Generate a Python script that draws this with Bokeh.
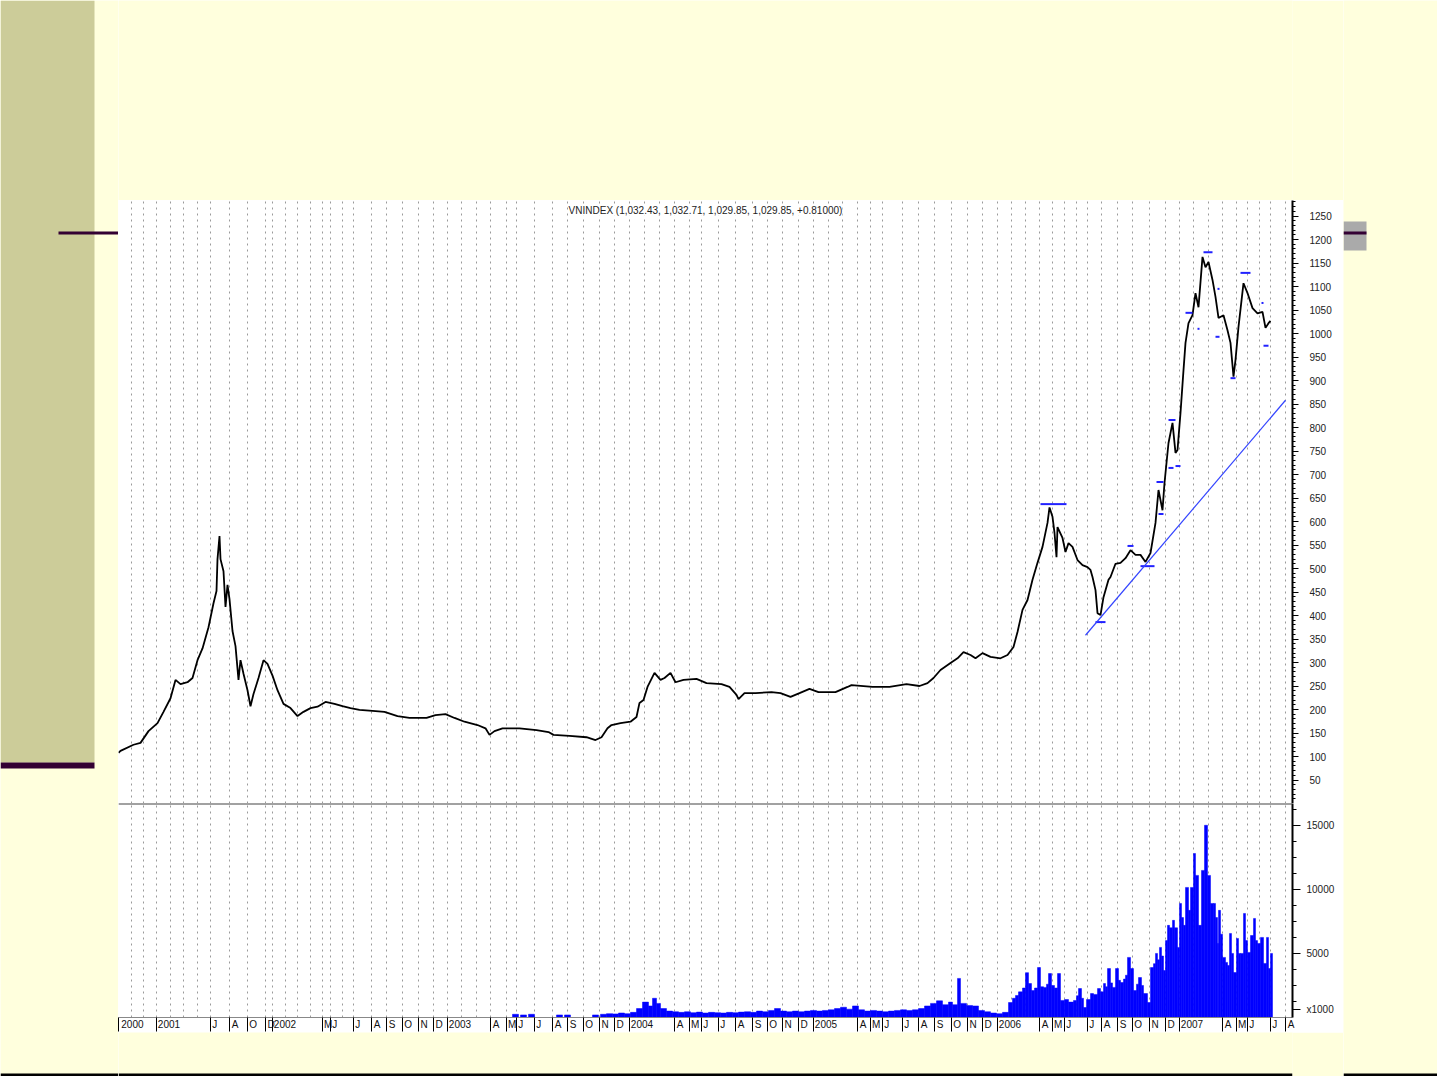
from bokeh.plotting import figure
from bokeh.layouts import row, column
from bokeh.models import Range1d, FixedTicker, Grid, Label, Span
from bokeh.embed import file_html
from bokeh.resources import INLINE
import numpy as np

BG = "#FFFFDD"
FONT = "Liberation Sans"

# ---------------- data (x = trading-session index on the compressed chart axis) -------------
price_x = [0, 2, 15, 22, 30, 39, 45, 52, 57, 62, 69, 74, 79, 84, 90, 95, 98, 99, 101, 102, 105,
           107, 109, 111, 114, 117, 120, 122, 125, 129, 132, 135, 140, 145, 149, 154, 159, 165,
           172, 179, 185, 192, 199, 207, 216, 224, 232, 241, 254, 266, 279, 291, 308, 317, 327,
           336, 346, 359, 367, 371, 376, 384, 401, 418, 430, 435, 451, 468, 477, 483, 489, 493,
           502, 512, 518, 521, 525, 529, 536, 542, 546, 552, 557, 565, 578, 588, 603, 611, 618,
           620, 626, 637, 653, 662, 672, 681, 691, 700, 717, 729, 733, 754, 771, 788, 801, 809,
           815, 822, 832, 839, 845, 852, 857, 864, 872, 882, 889, 895, 899, 904, 909, 914, 919,
           924, 929, 931, 934, 936, 938, 939, 944, 947, 950, 954, 959, 964, 969, 972, 974, 977,
           979, 982, 985, 990, 992, 997, 1002, 1007, 1012, 1017, 1022, 1027, 1032, 1037, 1040,
           1044, 1046, 1050, 1054, 1057, 1059, 1062, 1065, 1067, 1070, 1074, 1077, 1080, 1084,
           1087, 1090, 1094, 1097, 1100, 1105, 1109, 1112, 1115, 1117, 1120, 1125, 1129, 1134,
           1139, 1144, 1147, 1150, 1152]
price_y = [108, 112, 125, 129, 154, 171, 195, 224, 263, 254, 258, 267, 305, 330, 375, 426, 452,
           520, 569, 520, 494, 418, 465, 435, 367, 335, 263, 305, 276, 241, 207, 233, 267, 305,
           297, 272, 241, 212, 203, 186, 195, 203, 206, 216, 212, 207, 203, 199, 197, 195, 186,
           182, 182, 188, 190, 182, 174, 167, 160, 146, 154, 160, 160, 156, 152, 146, 144, 141,
           135, 141, 160, 167, 171, 174, 184, 214, 220, 248, 278, 263, 267, 278, 258, 263, 265,
           256, 254, 248, 231, 222, 235, 235, 237, 235, 227, 235, 244, 237, 237, 248, 252, 248,
           248, 254, 250, 256, 267, 284, 299, 309, 322, 316, 309, 320, 312, 309, 316, 333, 365,
           412, 433, 476, 512, 546, 597, 630, 610, 576, 524, 588, 565, 535, 554, 546, 518, 507,
           503, 497, 482, 454, 405, 401, 439, 476, 482, 510, 512, 522, 539, 529, 529, 514, 533,
           597, 667, 624, 682, 767, 810, 746, 752, 831, 922, 980, 1022, 1039, 1086, 1056, 1163,
           1141, 1152, 1114, 1078, 1033, 1039, 1007, 980, 908, 944, 1014, 1107, 1086, 1054,
           1043, 1046, 1012, 1022, 1027]

vol_x = [394, 402, 410, 438, 446, 474, 482, 488, 494, 500, 506, 512, 518, 524, 530, 534, 538,
         542, 548, 554, 560, 566, 572, 578, 584, 590, 596, 602, 608, 614, 620, 626, 632, 638,
         644, 650, 656, 662, 668, 674, 680, 686, 692, 698, 704, 710, 716, 722, 728, 734, 740,
         746, 752, 758, 764, 770, 776, 782, 788, 794, 800, 806, 812, 818, 824, 830, 834, 839,
         842, 848, 854, 860, 866, 872, 878, 884, 890, 894, 897, 900, 904, 907, 910, 913, 916,
         919, 922, 925, 928, 930, 933, 936, 939, 942, 946, 950, 955, 958, 960, 963, 965, 968,
         972, 975, 979, 982, 985, 987, 989, 992, 994, 997, 1000, 1002, 1005, 1007, 1009, 1012,
         1015, 1018, 1020, 1023, 1025, 1029, 1032, 1035, 1037, 1039, 1041, 1043, 1045, 1047,
         1049, 1051, 1054, 1056, 1059, 1061, 1063, 1065, 1067, 1070, 1072, 1075, 1077, 1080,
         1083, 1086, 1089, 1092, 1095, 1097, 1099, 1100, 1102, 1104, 1107, 1109, 1111, 1113,
         1115, 1118, 1120, 1122, 1125, 1127, 1129, 1132, 1135, 1137, 1139, 1142, 1145, 1148,
         1150, 1152]
vol_v = [250, 200, 250, 200, 200, 200, 250, 300, 280, 350, 300, 400, 700, 1200, 900, 1500, 1100,
         700, 500, 450, 400, 450, 380, 420, 350, 400, 380, 350, 400, 380, 420, 450, 400, 500,
         450, 550, 700, 500, 450, 500, 450, 500, 550, 500, 550, 600, 700, 800, 650, 900, 600,
         500, 550, 500, 450, 500, 550, 600, 550, 600, 700, 900, 1100, 1300, 1000, 1200, 1000,
         3050, 1100, 940, 900, 550, 450, 350, 300, 400, 1170, 1500, 1720, 2000, 2300, 3500,
         2650, 2100, 2300, 3900, 2400, 2350, 2600, 3430, 2500, 2300, 3430, 1330, 1400, 1200,
         1330, 1700, 2260, 1500, 780, 1400, 1870, 1800, 2260, 2000, 2650, 2400, 3820, 2700,
         2350, 3820, 2900, 2730, 3000, 3300, 4690, 3820, 2100, 2600, 3120, 2500, 1870, 1170,
         3900, 4200, 5000, 4500, 5470, 4800, 3670, 6000, 7190, 7000, 7580, 7000, 5470, 8900,
         7800, 7190, 10150, 8360, 10150, 12800, 11090, 7190, 11480, 15000, 11090, 8900, 8900,
         7800, 5780, 8360, 6500, 4690, 4300, 4060, 6560, 5000, 3510, 6170, 5000, 5000, 8120,
         6000, 5080, 6400, 7730, 6000, 5780, 6250, 4220, 6250, 3820, 5000]

# swing markers (start session, end session, index level)
mark_x0 = [922, 977, 1009, 1022, 1038, 1040, 1050, 1057, 1050, 1067, 1079, 1085, 1099, 1097, 1112, 1122, 1143, 1145]
mark_x1 = [948, 987, 1015, 1036, 1045, 1045, 1055, 1062, 1057, 1074, 1081, 1094, 1101, 1101, 1117, 1132, 1145, 1150]
mark_y = [637, 386, 548, 505, 684, 616, 714, 718, 816, 1044, 1010, 1173, 1095, 993, 905, 1129, 1065, 974]

# trend line
trend_x = [967, 1167]
trend_y = [358, 858]

# x-axis month ticks
month_ticks = [0, 38, 92, 111, 129, 147, 154, 204, 212, 235, 253, 268, 284, 300, 315, 329, 372,
               388, 398, 416, 434, 449, 465, 481, 496, 511, 556, 571, 583, 600, 617, 634, 649,
               664, 680, 695, 739, 752, 764, 784, 800, 816, 833, 849, 864, 879, 921, 934, 946,
               969, 983, 999, 1014, 1031, 1047, 1061, 1104, 1118, 1129, 1152, 1167]
month_labels = ["2000", "2001", "J", "A", "O", "D", "2002", "M", "J", "J", "A", "S", "O", "N",
                "D", "2003", "A", "M", "J", "J", "A", "S", "O", "N", "D", "2004", "A", "M", "J",
                "J", "A", "S", "O", "N", "D", "2005", "A", "M", "J", "J", "A", "S", "O", "N",
                "D", "2006", "A", "M", "J", "J", "A", "S", "O", "N", "D", "2007", "A", "M", "J",
                "J", "A"]
price_ticks = list(range(50, 1251, 50))
vol_ticks = [600, 5000, 10000, 15000]
vol_tick_labels = ["x1000", "5000", "10000", "15000"]
title_text = "VNINDEX (1,032.43, 1,032.71, 1,029.85, 1,029.85, +0.81000)"

# ---------------- helpers ----------------
grid_ticks = []
for a, b in zip(month_ticks[:-1], month_ticks[1:]):
    n = max(1, int(round((b - a) / 14.0)))
    grid_ticks += [a + (b - a) * k / n for k in range(n)]
grid_ticks.append(month_ticks[-1])

# approximate glyph widths (px at 10px Liberation Sans) to put each label just right of its tick
CW = {"J": 5.0, "A": 6.7, "O": 7.8, "D": 7.2, "M": 8.3, "S": 6.7, "N": 7.2}
NBSP_W = 2.78


def right_of_tick(lbl, first=False):
    if first:
        # the label at the frame edge is kept inside the canvas by Bokeh
        return "\u00a0" + lbl
    w = sum(CW.get(c, 5.56) for c in lbl)
    n = int(round((w + 4.0) / NBSP_W))
    return "\u00a0" * n + lbl


def blank(w, h):
    f = figure(width=w, height=h, x_range=Range1d(0, w), y_range=Range1d(h, 0),
               toolbar_location=None, output_backend="svg", min_border=0,
               x_axis_location=None, y_axis_location=None)
    f.background_fill_color = BG
    f.border_fill_color = BG
    f.outline_line_color = None
    f.xgrid.visible = False
    f.ygrid.visible = False
    return f


xr = Range1d(0, 1174)

# ---------------- price panel ----------------
fp = figure(width=1225, height=603, x_range=xr, y_range=Range1d(0, 1283),
            toolbar_location=None, output_backend="svg", x_axis_location=None,
            y_axis_location="right", min_border_left=0, min_border_right=51,
            min_border_top=0, min_border_bottom=0)
fp.background_fill_color = "white"
fp.border_fill_color = "white"
fp.outline_line_color = None
fp.ygrid.visible = False
fp.xgrid.visible = False
fp.add_layout(Grid(dimension=0, ticker=FixedTicker(ticks=grid_ticks),
                   grid_line_color="#9a9a9a", grid_line_dash="2 4", grid_line_width=1))
ya = fp.yaxis[0]
ya.ticker = FixedTicker(ticks=price_ticks, minor_ticks=list(range(10, 1281, 10)))
ya.axis_line_width = 2
ya.axis_line_color = "black"
ya.major_tick_out = 6
ya.major_tick_in = 0
ya.minor_tick_out = 3
ya.minor_tick_in = 0
ya.major_tick_line_color = "black"
ya.minor_tick_line_color = "black"
ya.major_label_standoff = 11
ya.major_label_text_font = FONT
ya.major_label_text_font_size = "10px"
ya.major_label_text_color = "#222222"

fp.line(price_x, price_y, line_color="black", line_width=1.8)
fp.segment(x0=mark_x0, x1=mark_x1, y0=mark_y, y1=mark_y, line_color="#2222ff", line_width=2)
fp.line(trend_x, trend_y, line_color="#3344ff", line_width=1.2)
fp.add_layout(Label(x=587, y=1262, text=title_text, text_align="center",
                    text_baseline="middle", text_font=FONT, text_font_size="10px",
                    text_color="#222222", background_fill_color="white"))

# ---------------- volume panel ----------------
fv = figure(width=1225, height=229, x_range=xr, y_range=Range1d(0, 16700),
            toolbar_location=None, output_backend="svg", x_axis_location="below",
            y_axis_location="right", min_border_left=0, min_border_right=51,
            min_border_top=0, min_border_bottom=15)
fv.background_fill_color = "white"
fv.border_fill_color = "white"
fv.outline_line_color = None
fv.ygrid.visible = False
fv.xgrid.visible = False
fv.add_layout(Grid(dimension=0, ticker=FixedTicker(ticks=grid_ticks),
                   grid_line_color="#9a9a9a", grid_line_dash="2 4", grid_line_width=1))
vx = np.array(vol_x, dtype=float)
vw = np.minimum(np.diff(vx, append=vx[-1] + 2), 6)
fv.quad(left=vx, right=vx + vw, bottom=0, top=vol_v, fill_color="#0000ff",
        line_color="#0000ff", line_width=0.5)
fv.add_layout(Span(location=16700, dimension="width", line_color="#444444", line_width=2))

va = fv.yaxis[0]
va.ticker = FixedTicker(ticks=vol_ticks, minor_ticks=list(range(1250, 16700, 1250)))
va.major_label_overrides = {t: l for t, l in zip(vol_ticks, vol_tick_labels)}
va.axis_line_width = 2
va.axis_line_color = "black"
va.major_tick_out = 8
va.major_tick_in = 0
va.minor_tick_out = 4
va.minor_tick_in = 0
va.major_tick_line_color = "black"
va.minor_tick_line_color = "black"
va.major_label_standoff = 6
va.major_label_text_font = FONT
va.major_label_text_font_size = "10px"
va.major_label_text_color = "#222222"

xa = fv.xaxis[0]
xa.ticker = FixedTicker(ticks=month_ticks, minor_ticks=[])
xa.major_label_overrides = {t: right_of_tick(l, i == 0)
                            for i, (t, l) in enumerate(zip(month_ticks, month_labels))}
xa.axis_line_color = "#888888"
xa.axis_line_width = 1
xa.major_tick_out = 14
xa.major_tick_in = 0
xa.major_tick_line_color = "black"
xa.minor_tick_line_color = None
xa.major_label_standoff = -13
xa.major_label_text_font = FONT
xa.major_label_text_font_size = "10px"
xa.major_label_text_color = "#111111"

# ---------------- slide decoration ----------------
H = 1076
left = blank(118, H)
left.quad(left=0, right=94, top=0, bottom=762, fill_color="#CCCC99", line_color=None)
left.quad(left=0, right=94, top=762, bottom=768, fill_color="#330033", line_color=None)
left.quad(left=58, right=118, top=231, bottom=234, fill_color="#330033", line_color=None)
left.quad(left=0, right=118, top=1073, bottom=1076, fill_color="black", line_color=None)

right = blank(94, H)
right.quad(left=0, right=23, top=221, bottom=250, fill_color="#AAAAAA", line_color=None)
right.quad(left=0, right=23, top=231, bottom=234, fill_color="#330033", line_color=None)
right.quad(left=0, right=94, top=1073, bottom=1076, fill_color="black", line_color=None)

top = blank(1225, 200)
bottom = blank(1225, 44)
bottom.quad(left=0, right=1225, top=41, bottom=44, fill_color="black", line_color=None)

p = row(left, column(top, fp, fv, bottom), right)

open("out.html", "w").write(file_html(p, INLINE))
